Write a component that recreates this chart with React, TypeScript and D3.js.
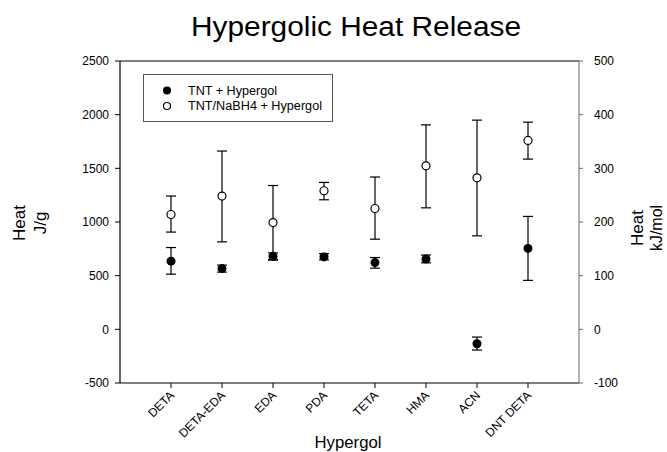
import React from "react";
import * as d3 from "d3";

const categories = ["DETA", "DETA-EDA", "EDA", "PDA", "TETA", "HMA", "ACN", "DNT DETA"];
const tntMean = [635, 566, 680, 675, 622, 655, -134, 754];
const tntLow = [514, 533, 645, 648, 570, 620, -193, 456];
const tntHigh = [762, 598, 712, 706, 669, 692, -72, 1052];
const mixMean = [1070, 1242, 995, 1291, 1126, 1523, 1412, 1760];
const mixLow = [906, 815, 650, 1207, 840, 1132, 871, 1586];
const mixHigh = [1242, 1661, 1340, 1369, 1419, 1905, 1949, 1930];
const leftTicks = [-500, 0, 500, 1000, 1500, 2000, 2500];
const rightTicks = [-100, 0, 100, 200, 300, 400, 500];
const seriesNames = ["TNT + Hypergol", "TNT/NaBH4 + Hypergol"];

const W = 667, H = 452;
const L = 120, R = 579, T = 61, B = 383;
const FONT = "Liberation Sans, Arial, sans-serif";

export default function App() {
  const x = d3.scaleLinear().domain([0, categories.length + 1]).range([L, R]);
  const y = d3.scaleLinear().domain([-500, 2500]).range([B, T]);
  const y2 = d3.scaleLinear().domain([-100, 500]).range([B, T]);
  const cap = 5;

  const errBar = (cx: number, lo: number, hi: number, key: string) => (
    <g key={key} stroke="#000" strokeWidth={1.2}>
      <line x1={cx} x2={cx} y1={y(lo)} y2={y(hi)} />
      <line x1={cx - cap} x2={cx + cap} y1={y(lo)} y2={y(lo)} />
      <line x1={cx - cap} x2={cx + cap} y1={y(hi)} y2={y(hi)} />
    </g>
  );

  return (
    <svg width={W} height={H} style={{ position: "absolute", left: 0, top: 0, background: "#fff" }} fontFamily={FONT}>
      <rect x={0} y={0} width={W} height={H} fill="#fff" />
      <text x={191} y={36} fontSize={27} textLength={330} lengthAdjust="spacingAndGlyphs">Hypergolic Heat Release</text>

      {/* axes */}
      <line x1={L} x2={R} y1={T} y2={T} stroke="#000" strokeWidth={1.2} />
      <line x1={L} x2={R} y1={B} y2={B} stroke="#000" strokeWidth={1.2} />
      <line x1={L} x2={L} y1={T} y2={B} stroke="#000" strokeWidth={1.2} />
      <line x1={R} x2={R} y1={T} y2={B} stroke="#666" strokeWidth={1} />

      {leftTicks.map((t) => (
        <g key={"l" + t}>
          <line x1={L - 5} x2={L} y1={y(t)} y2={y(t)} stroke="#000" />
          <text x={L - 11} y={y(t)} dy="0.35em" textAnchor="end" fontSize={12}>{t}</text>
        </g>
      ))}
      {rightTicks.map((t) => (
        <g key={"r" + t}>
          <line x1={R} x2={R + 4} y1={y2(t)} y2={y2(t)} stroke="#666" />
          <text x={R + 15} y={y2(t)} dy="0.35em" textAnchor="start" fontSize={12}>{t}</text>
        </g>
      ))}
      {categories.map((c, i) => (
        <g key={"c" + c}>
          <line x1={x(i + 1)} x2={x(i + 1)} y1={B} y2={B + 5} stroke="#000" />
          <text
            transform={`translate(${x(i + 1) + 4},${B + 13}) rotate(-45)`}
            textAnchor="end"
            fontSize={12}
          >{c}</text>
        </g>
      ))}

      <text x={348} y={448} textAnchor="middle" fontSize={16} textLength={67} lengthAdjust="spacingAndGlyphs">Hypergol</text>
      <text transform={`translate(25,223) rotate(-90)`} textAnchor="middle" fontSize={17}>Heat</text>
      <text transform={`translate(46,223) rotate(-90)`} textAnchor="middle" fontSize={17}>J/g</text>
      <text transform={`translate(643,228) rotate(-90)`} textAnchor="middle" fontSize={17}>Heat</text>
      <text transform={`translate(662,228) rotate(-90)`} textAnchor="middle" fontSize={16}>kJ/mol</text>

      {/* error bars */}
      {categories.map((c, i) => errBar(x(i + 1), mixLow[i], mixHigh[i], "me" + i))}
      {categories.map((c, i) => errBar(x(i + 1), tntLow[i], tntHigh[i], "te" + i))}
      {categories.map((c, i) => (
        <circle key={"mc" + i} cx={x(i + 1)} cy={y(mixMean[i])} r={4} fill="#fff" stroke="#000" strokeWidth={1.2} />
      ))}
      {categories.map((c, i) => (
        <circle key={"tc" + i} cx={x(i + 1)} cy={y(tntMean[i])} r={4.5} fill="#000" />
      ))}

      {/* legend */}
      <rect x={143.5} y={74.5} width={189} height={47} fill="#fff" stroke="#555" strokeWidth={1} />
      <circle cx={167} cy={90.5} r={4} fill="#000" />
      <circle cx={167} cy={106} r={3.5} fill="#fff" stroke="#000" strokeWidth={1.2} />
      <text x={188} y={90.5} dy="0.35em" fontSize={12} textLength={89} lengthAdjust="spacingAndGlyphs">{seriesNames[0]}</text>
      <text x={188} y={106} dy="0.35em" fontSize={12} textLength={134} lengthAdjust="spacingAndGlyphs">{seriesNames[1]}</text>
    </svg>
  );
}
